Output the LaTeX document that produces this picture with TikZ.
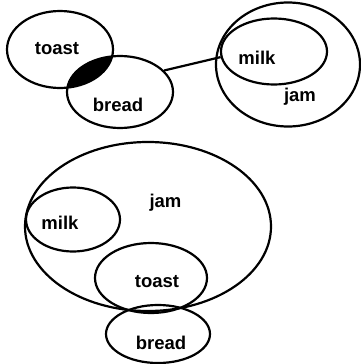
\documentclass[tikz,border=0pt]{standalone}
\usepackage{fontspec}
\setmainfont{Liberation Sans}
\usetikzlibrary{shapes.geometric}

\begin{document}
\begin{tikzpicture}[x=1pt, y=-1pt,
  setshape/.style={ellipse, draw, line width=2.2pt, inner sep=0pt},
  setlabel/.style={font=\bfseries\fontsize{18.5}{20}\selectfont}]
  \useasboundingbox (0,0) rectangle (360,364);

  % Overlap of toast and bread (top)
  \begin{scope}
    \clip (60,49.5) ellipse [x radius=53pt, y radius=38.5pt];
    \fill (120,92) ellipse [x radius=53pt, y radius=36pt];
  \end{scope}

  % Top sets
  \node[setshape, minimum width=106pt, minimum height=77pt] (toastA) at (60,49.5) {};
  \node[setshape, minimum width=106pt, minimum height=72pt] (breadA) at (120,92) {};
  \node[setshape, minimum width=144pt, minimum height=124pt] (jamA) at (288,64.5) {};
  \node[setshape, minimum width=106pt, minimum height=66pt] (milkA) at (274,51.5) {};

  % Link between the two groups
  \draw[line width=2.2pt] (breadA.26) -- (milkA.186);

  % Top labels
  \node[setlabel] (toastAt) at (57,49) {toast};
  \node[setlabel] (breadAt) at (118,105) {bread};
  \node[setlabel] (milkAt) at (257,58) {milk};
  \node[setlabel] (jamAt) at (300,97) {jam};

  % Bottom sets
  \node[setshape, minimum width=246pt, minimum height=169pt] (jamB) at (148,226.5) {};
  \node[setshape, minimum width=94pt, minimum height=64pt] (milkB) at (73,219.5) {};
  \node[setshape, minimum width=112pt, minimum height=70pt] (toastB) at (151,278) {};
  \node[setshape, minimum width=104pt, minimum height=58pt] (breadB) at (158,334) {};

  % Bottom labels
  \node[setlabel] (jamBt) at (165.5,203) {jam};
  \node[setlabel] (milkBt) at (60,223) {milk};
  \node[setlabel] (toastBt) at (157,282) {toast};
  \node[setlabel] (breadBt) at (161,343) {bread};

\end{tikzpicture}
\end{document}
